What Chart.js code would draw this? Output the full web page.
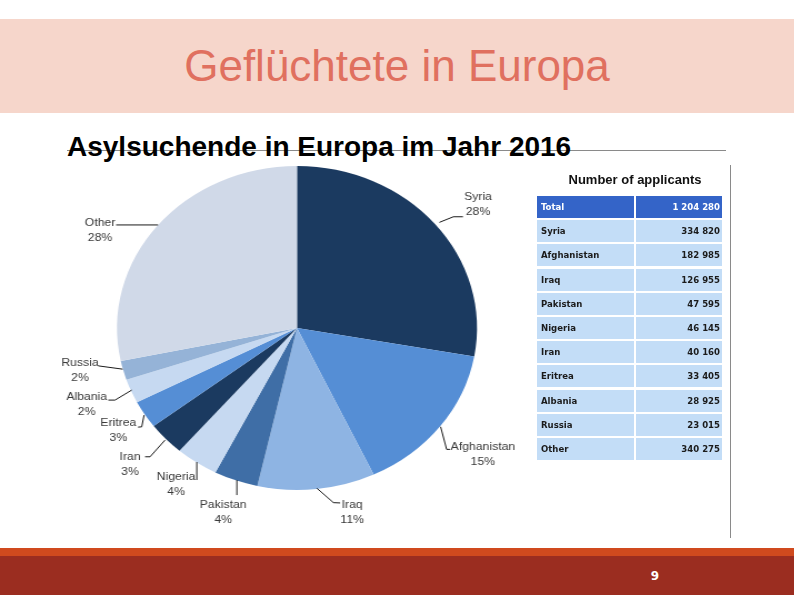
<!DOCTYPE html>
<html>
<head>
<meta charset="utf-8">
<script src="https://cdn.jsdelivr.net/npm/chart.js@4/dist/chart.umd.min.js"></script>
<style>
  html, body { margin: 0; padding: 0; background: #fff; }
  body { width: 794px; height: 595px; position: relative; overflow: hidden; font-family: "Liberation Sans", Arial, sans-serif; }
  #banner { position: absolute; left: 0; top: 19px; width: 794px; height: 94px; background: #F6D6CB; }
  #title { position: absolute; left: 0; top: 19px; width: 794px; height: 94px; line-height: 94px; text-align: center; color: #E0705F; font-size: 44px; }
  #rule { position: absolute; left: 67px; top: 150px; width: 659px; height: 1px; background: #8a8a8a; }
  #subtitle { position: absolute; left: 67px; top: 131px; font-family: "Liberation Sans", Arial, sans-serif; font-weight: bold; font-size: 28px; line-height: 32px; color: #000; white-space: nowrap; }
  #vline { position: absolute; left: 730px; top: 165px; width: 1px; height: 373px; background: #8a8a8a; }
  #chartWrap { position: absolute; left: 40px; top: 150px; width: 450px; height: 400px; transform-origin: left top; }
  #tableTitle { position: absolute; left: 537px; top: 172px; width: 196px; text-align: center; font-weight: bold; font-size: 13px; color: #111; }
  #table { position: absolute; left: 537px; top: 196px; width: 185px; }
  .row { position: absolute; left: 0; width: 185px; height: 22px; }
  .cell { position: absolute; top: 0; height: 22px; line-height: 22px; font-family: "DejaVu Sans Condensed", "DejaVu Sans", sans-serif; font-weight: bold; font-size: 9.5px; color: #1b1b1b; background: #C3DDF7; box-sizing: border-box; }
  .c1 { left: 0; width: 97px; padding-left: 4px; }
  .c2 { left: 99px; width: 86px; text-align: right; padding-right: 2px; }
  .row.total .cell { background: #3464C8; color: #fff; }
  #footerTop { position: absolute; left: 0; top: 548px; width: 794px; height: 8px; background: #D04A1E; }
  #footer { position: absolute; left: 0; top: 556px; width: 794px; height: 39px; background: #9B2D20; }
  #pagenum { position: absolute; left: 648px; top: 569px; width: 14px; text-align: center; color: #fff; font-size: 12px; font-weight: bold; font-family: "DejaVu Sans", sans-serif; }
</style>
</head>
<body>
<div id="banner"></div>
<div id="title">Geflüchtete in Europa</div>
<div id="rule"></div>
<div id="subtitle">Asylsuchende in Europa im Jahr 2016</div>
<div id="vline"></div>
<div id="chartWrap"><canvas id="c" width="450" height="400" style="width:450px;height:400px"></canvas></div>
<div id="tableTitle">Number of applicants</div>
<div id="table"></div>
<div id="footerTop"></div>
<div id="footer"></div>
<div id="pagenum">9</div>
<script>
// ---- data ----
const categories = ["Syria", "Afghanistan", "Iraq", "Pakistan", "Nigeria", "Iran", "Eritrea", "Albania", "Russia", "Other"];
const applicants = [334820, 182985, 126955, 47595, 46145, 40160, 33405, 28925, 23015, 340275];
const totalLabel = "Total";

// ---- styles ----
const sliceColors = ["#1B3A60", "#558ED5", "#8EB4E3", "#3F6EA6", "#C6D9F1", "#1B3A60", "#558ED5", "#C6D9F1", "#95B3D7", "#D0D9E8"];
const STRETCH = 180 / 162; // pie is drawn slightly wider than tall
// label layout: leader points and text centre, offsets (screen px) from the slice's mid-angle edge point
const labelLayout = [
  { line: [[4.4, -1.6], [18.4, -7.2], [28, -7.2]], text: [43, -26.6] },
  { line: [[0.7, 0.3], [6.7, 22.9], [10, 22.9]], text: [43, 20.9] },
  { line: [[0.3, -0.8], [16.9, 13.6], [23.6, 13.9]], text: [35.6, 15.9] },
  { line: [[1, -0.3], [1, 14.7]], text: [-12.7, 24.7] },
  { line: [[0.1, -0.5], [0.1, 17.5]], text: [-20.6, 14.5] },
  { line: [[-0.8, 1.1], [-15.8, 17.8], [-20.8, 17.8]], text: [-35.8, 17.8] },
  { line: [[-0.7, 0.7], [-3, 12.4], [-6.7, 12.7]], text: [-26.4, 9] },
  { line: [[0.5, -1], [-16.2, 9], [-22.9, 9]], text: [-44.5, 5.7] },
  { line: [[-0.6, -1.2], [-25, -4.5]], text: [-43.3, -7.2] },
  { line: [[0.7, -0.8], [-41.3, -0.8]], text: [-57.3, -2.8] }
];

const total = applicants.reduce((a, b) => a + b, 0);
function fmt(n) { return String(n).replace(/\B(?=(\d{3})+(?!\d))/g, " "); }

// ---- table ----
const tbl = document.getElementById("table");
const rows = [[totalLabel, total, true]].concat(categories.map((c, i) => [c, applicants[i], false]));
rows.forEach((r, i) => {
  const d = document.createElement("div");
  d.className = "row" + (r[2] ? " total" : "");
  d.style.top = (i * 24.2) + "px";
  d.innerHTML = '<div class="cell c1">' + r[0] + '</div><div class="cell c2">' + fmt(r[1]) + '</div>';
  tbl.appendChild(d);
});

// ---- chart ----
document.getElementById("chartWrap").style.transform = "scaleX(" + STRETCH + ")";

const leaderLabels = {
  id: "leaderLabels",
  afterDatasetsDraw(chart) {
    const ctx = chart.ctx;
    const meta = chart.getDatasetMeta(0);
    ctx.save();
    meta.data.forEach((arc, i) => {
      const p = arc.getProps(["x", "y", "startAngle", "endAngle", "outerRadius"], true);
      const mid = (p.startAngle + p.endAngle) / 2;
      const ex = p.x + Math.cos(mid) * p.outerRadius;
      const ey = p.y + Math.sin(mid) * p.outerRadius;
      const L = labelLayout[i];
      ctx.strokeStyle = "#1a1a1a";
      ctx.lineWidth = 1;
      ctx.beginPath();
      L.line.forEach((o, k) => {
        const px = ex + o[0] / STRETCH, py = ey + o[1];
        if (k === 0) ctx.moveTo(px, py); else ctx.lineTo(px, py);
      });
      ctx.stroke();
      const tx = ex + L.text[0] / STRETCH, ty = ey + L.text[1];
      ctx.fillStyle = "#3a3a3a";
      ctx.font = '11px "Liberation Sans", Arial, sans-serif';
      ctx.textAlign = "center";
      ctx.textBaseline = "middle";
      ctx.fillText(chart.data.labels[i], tx, ty);
      const pct = Math.round(chart.data.datasets[0].data[i] / total * 100) + "%";
      ctx.fillText(pct, tx, ty + 15);
    });
    ctx.restore();
  }
};

new Chart(document.getElementById("c"), {
  type: "pie",
  data: {
    labels: categories,
    datasets: [{ data: applicants, backgroundColor: sliceColors, borderWidth: 0 }]
  },
  options: {
    responsive: false,
    animation: false,
    devicePixelRatio: 1,
    layout: { padding: { left: 50, right: 37.4, top: 16, bottom: 60 } },
    plugins: { legend: { display: false }, tooltip: { enabled: false } }
  },
  plugins: [leaderLabels]
});
</script>
</body>
</html>
